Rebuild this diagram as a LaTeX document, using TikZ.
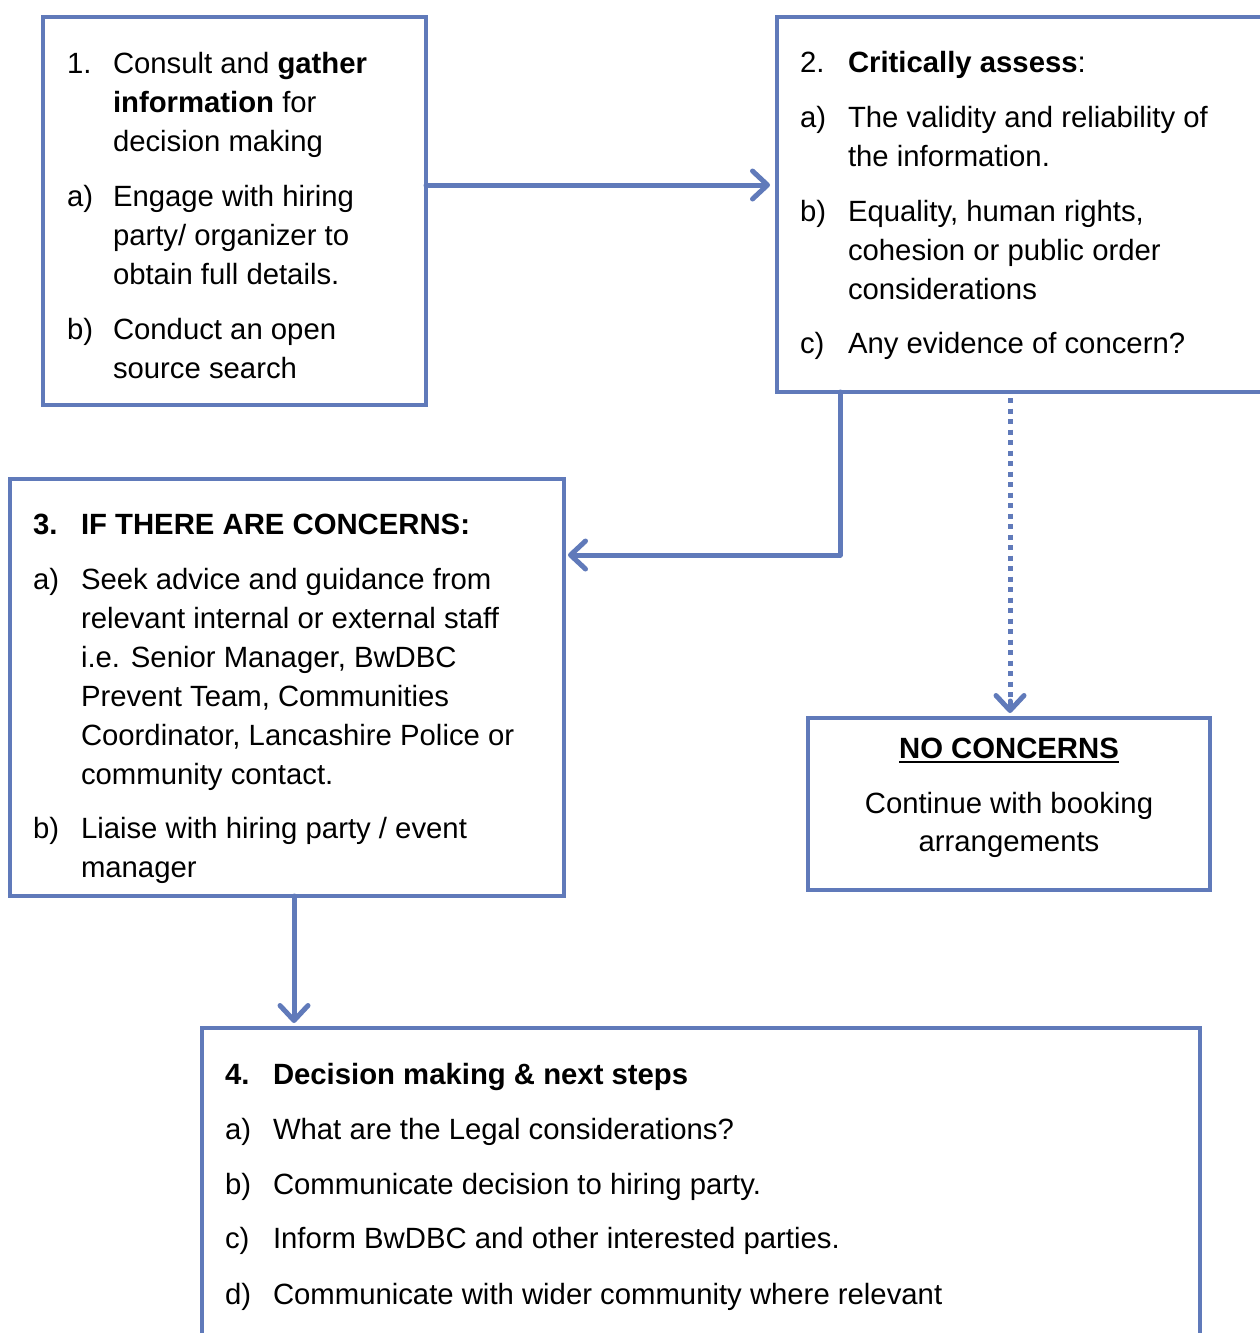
\documentclass[tikz,border=0pt]{standalone}
\usepackage{fontspec}
\setmainfont{Liberation Sans}
\usetikzlibrary{arrows.meta}
\definecolor{lineblue}{RGB}{96,122,186}
\tikzset{
  box/.style={draw=lineblue, line width=4.8pt, rectangle, outer sep=0pt, inner sep=0pt, fill=white},
  txt/.style={anchor=base west, inner sep=0pt, outer sep=0pt, font=\fontsize{29.3}{39}\selectfont},
  ctxt/.style={anchor=base, inner sep=0pt, outer sep=0pt, font=\fontsize{29.3}{39}\selectfont},
  conn/.style={draw=lineblue, line width=5pt, line cap=round, line join=round,
    -{Straight Barb[length=15pt,width=28pt,round]}},
  dotconn/.style={draw=lineblue, line width=5pt, dash pattern=on 5pt off 5.5pt},
}
\newcommand\TL[4]{\node[txt] (#1) at (#2,#3) {#4};}
\begin{document}
\begin{tikzpicture}[x=1pt,y=-1pt]
\useasboundingbox (0,0) rectangle (1260,1333);
% boxes
\node[box, minimum width=383pt, minimum height=388pt] (b1) at (234.5,211) {};
\node[box, minimum width=488pt, minimum height=375pt] (b2) at (1021,204.5) {};
\node[box, minimum width=554pt, minimum height=417pt] (b3) at (287,687.5) {};
\node[box, minimum width=402pt, minimum height=172pt] (nc) at (1009,804) {};
\node[box, minimum width=998pt, minimum height=317pt] (b4) at (701,1186.5) {};
% box 1
\TL{l1}{67}{73}{1.}
\TL{t1a}{113}{73}{Consult and \textbf{gather}}
\TL{t1b}{113}{112}{\textbf{information} for}
\TL{t1c}{113}{151}{decision making}
\TL{l1a}{67}{206}{a)}
\TL{t1d}{113}{206}{Engage with hiring}
\TL{t1e}{113}{245}{party/ organizer to}
\TL{t1f}{113}{284}{obtain full details.}
\TL{l1b}{67}{339}{b)}
\TL{t1g}{113}{339}{Conduct an open}
\TL{t1h}{113}{378}{source search}
% box 2
\TL{l2}{800}{72}{2.}
\TL{t2a}{848}{72}{\textbf{Critically assess}:}
\TL{l2a}{800}{127}{a)}
\TL{t2b}{848}{127}{The validity and reliability of}
\TL{t2c}{848}{166}{the information.}
\TL{l2b}{800}{221}{b)}
\TL{t2d}{848}{221}{Equality, human rights,}
\TL{t2e}{848}{260}{cohesion or public order}
\TL{t2f}{848}{299}{considerations}
\TL{l2c}{800}{353}{c)}
\TL{t2g}{848}{353}{Any evidence of concern?}
% box 3
\TL{l3}{33}{534}{\textbf{3.}}
\TL{t3a}{81}{534}{\textbf{IF THERE ARE CONCERNS:}}
\TL{l3a}{33}{589}{a)}
\TL{t3b}{81}{589}{Seek advice and guidance from}
\TL{t3c}{81}{628}{relevant internal or external staff}
\TL{t3d}{81}{667}{i.e. Senior Manager, BwDBC}
\TL{t3e}{81}{706}{Prevent Team, Communities}
\TL{t3f}{81}{745}{Coordinator, Lancashire Police or}
\TL{t3g}{81}{784}{community contact.}
\TL{l3b}{33}{838}{b)}
\TL{t3h}{81}{838}{Liaise with hiring party / event}
\TL{t3i}{81}{877}{manager}
% no concerns
\node[ctxt] (nc1) at (1009,758) {\textbf{NO CONCERNS}};
\draw[line width=2pt] ([yshift=-4pt]nc1.base west) -- ([yshift=-4pt]nc1.base east);
\node[ctxt] (nc2) at (1009,813) {Continue with booking};
\node[ctxt] (nc3) at (1009,851) {arrangements};
% box 4
\TL{l4}{225}{1084}{\textbf{4.}}
\TL{t4a}{273}{1084}{\textbf{Decision making \& next steps}}
\TL{l4a}{225}{1139}{a)}
\TL{t4b}{273}{1139}{What are the Legal considerations?}
\TL{l4b}{225}{1194}{b)}
\TL{t4c}{273}{1194}{Communicate decision to hiring party.}
\TL{l4c}{225}{1248}{c)}
\TL{t4d}{273}{1248}{Inform BwDBC and other interested parties.}
\TL{l4d}{225}{1304}{d)}
\TL{t4e}{273}{1304}{Communicate with wider community where relevant}
% connectors
\draw[conn] (b1.east |- 0,185) -- ([xshift=-7pt]b2.west |- 0,185);
\draw[conn] (b2.south -| 840,0) -- (840,555) -- ([xshift=4pt]b3.east |- 0,555);
\draw[dotconn] ([yshift=-6pt]b2.south -| 1010,0) -- ([yshift=11pt]nc.north -| 1010,0);
\draw[conn] ([yshift=17pt]nc.north -| 1010,0) -- ([yshift=5pt]nc.north -| 1010,0);
\draw[conn] (b3.south -| 294,0) -- ([yshift=5pt]b4.north -| 294,0);
\end{tikzpicture}
\end{document}
